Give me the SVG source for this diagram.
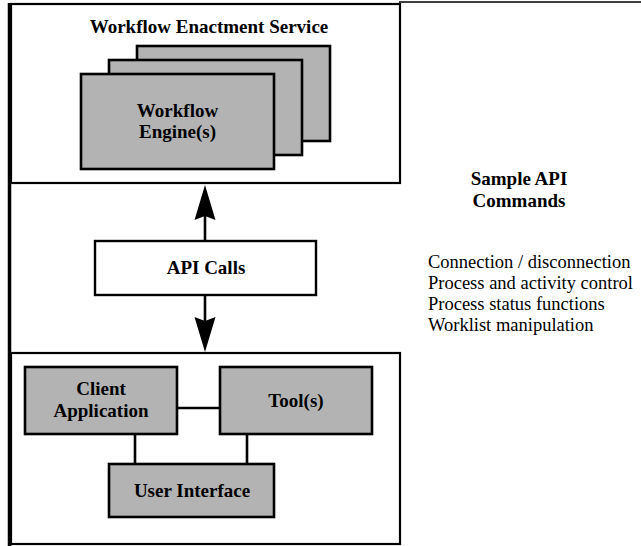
<svg xmlns="http://www.w3.org/2000/svg" width="641" height="546" viewBox="0 0 641 546">
<style>
.frame{fill:none;stroke:#000;stroke-width:2.2}
.gray{fill:#b3b3b3;stroke:#000;stroke-width:2.6}
.white{fill:#fff;stroke:#000;stroke-width:2.4}
.b{font-family:'Liberation Serif','Times New Roman',serif;font-weight:bold;font-size:19px;fill:#000;text-anchor:middle}
.r{font-family:'Liberation Serif','Times New Roman',serif;font-size:18.5px;fill:#000}
.ln{stroke:#000;stroke-width:2.6;fill:none}
.ah{fill:#000;stroke:none}
</style>
<rect width="641" height="546" fill="#fff"/>
<g id="frame">
<line x1="9.5" y1="3" x2="9.5" y2="546" stroke="#000" stroke-width="3.5"/>
<line x1="399" y1="2" x2="641" y2="2" stroke="#000" stroke-width="1.5"/>
</g>
<g id="enactment-service">
<rect class="frame" x="11" y="4" width="389" height="179"/>
<text class="b" x="209" y="33">Workflow Enactment Service</text>
</g>
<g id="engine-back"><rect class="gray" x="137" y="46" width="193" height="95"/></g>
<g id="engine-middle"><rect class="gray" x="109" y="60" width="193" height="95"/></g>
<g id="engine-front">
<rect class="gray" x="81" y="74" width="193" height="95"/>
<text class="b" x="177.5" y="117">Workflow</text>
<text class="b" x="177.5" y="138">Engine(s)</text>
</g>
<g id="client-side">
<rect class="frame" x="11" y="353" width="389" height="191"/>
</g>
<g id="connectors">
<line class="ln" x1="205" y1="241" x2="205" y2="214"/>
<polygon class="ah" points="205,185 194.5,220 205,216 215.5,220"/>
<line class="ln" x1="205" y1="295" x2="205" y2="322"/>
<polygon class="ah" points="205,352 194.5,317 205,321 215.5,317"/>
<line class="ln" x1="177" y1="408" x2="220" y2="408"/>
<line class="ln" x1="135" y1="434" x2="135" y2="464"/>
<line class="ln" x1="247" y1="434" x2="247" y2="464"/>
</g>
<g id="api-calls">
<rect class="white" x="95" y="241" width="221" height="54"/>
<text class="b" x="206" y="274">API Calls</text>
</g>
<g id="client-application">
<rect class="gray" x="25" y="367" width="152" height="67"/>
<text class="b" x="101" y="395">Client</text>
<text class="b" x="101" y="417">Application</text>
</g>
<g id="tools">
<rect class="gray" x="220" y="367" width="152" height="67"/>
<text class="b" x="296" y="407">Tool(s)</text>
</g>
<g id="user-interface">
<rect class="gray" x="109" y="464" width="165" height="53"/>
<text class="b" x="192" y="497">User Interface</text>
</g>
<g id="sample-commands">
<text class="b" x="519" y="185">Sample API</text>
<text class="b" x="519" y="207">Commands</text>
<text class="r" x="428" y="268">Connection / disconnection</text>
<text class="r" x="428" y="289">Process and activity control</text>
<text class="r" x="428" y="310">Process status functions</text>
<text class="r" x="428" y="331">Worklist manipulation</text>
</g>
</svg>
